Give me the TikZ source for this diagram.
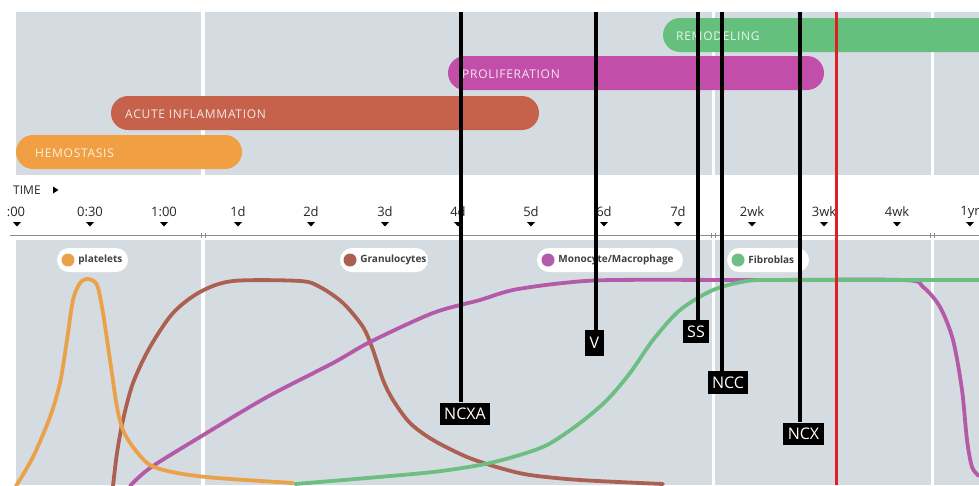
\documentclass[tikz,border=0pt]{standalone}
\usepackage{fontspec}
\setmainfont{Open Sans}
\newfontfamily\phasefont[LetterSpace=6]{Open Sans}
\usetikzlibrary{positioning}

\definecolor{panelgray}{RGB}{213,220,225}
\definecolor{hemocol}{RGB}{240,160,66}
\definecolor{inflamcol}{RGB}{198,98,76}
\definecolor{prolifcol}{RGB}{194,78,170}
\definecolor{remodcol}{RGB}{100,192,124}
\definecolor{platcurve}{RGB}{234,162,74}
\definecolor{granucurve}{RGB}{172,96,82}
\definecolor{monocurve}{RGB}{180,90,168}
\definecolor{fibrocurve}{RGB}{108,190,130}
\definecolor{cutred}{RGB}{222,32,36}

\tikzset{
    phase/.style={rounded corners=17pt, minimum height=34pt, inner sep=0pt},
    phasetext/.style={anchor=west, text=white, text opacity=0.85, inner sep=0pt, font=\phasefont\fontsize{12}{14}\selectfont},
    ticklabel/.style={text=black!85, font=\fontsize{13}{15}\selectfont},
    legendbox/.style={fill=white, rounded corners=12pt, minimum height=24pt, inner sep=0pt},
    legenddot/.style={circle, minimum size=13pt, inner sep=0pt},
    legendtext/.style={right=3.5pt of #1, inner sep=0pt, text=black!75, font=\bfseries\fontsize{10}{12}\selectfont},
    tagbox/.style={fill=black, text=white, inner xsep=4.5pt, inner ysep=0pt, minimum height=22pt, font=\fontsize{16}{18}\selectfont},
    stem/.style={line width=3.5pt},
    cellcurve/.style={line width=3.8pt, line cap=round}
}

\begin{document}
\begin{tikzpicture}[x=1pt, y=-1pt]
    \clip (0, 0) rectangle (979, 485);

    % panels
    \fill[panelgray] (16, 12) rectangle (979, 175);
    \fill[panelgray] (16, 240) rectangle (979, 485);
    \draw[white, line width=4pt] (203, 12) -- (203, 175);
    \draw[white, line width=3pt] (713, 12) -- (713, 175);
    \draw[white, line width=3pt] (932, 12) -- (932, 175);
    \draw[white, line width=4pt] (203, 240) -- (203, 485);
    \draw[white, line width=3pt] (713, 240) -- (713, 485);
    \draw[white, line width=3pt] (932, 240) -- (932, 485);

    % phases
    \node[phase, fill=remodcol, minimum width=346pt] (remod) at (836, 35) {};
    \node[phase, fill=prolifcol, minimum width=376pt] (prolif) at (636, 73) {};
    \node[phase, fill=inflamcol, minimum width=428pt] (inflam) at (325, 113) {};
    \node[phase, fill=hemocol, minimum width=226pt] (hemo) at (129, 152) {};
    \node[phasetext] at (676, 36) {REMODELING};
    \node[phasetext] at (462, 74) {PROLIFERATION};
    \node[phasetext] at (125, 114) {ACUTE INFLAMMATION};
    \node[phasetext] at (35, 153) {HEMOSTASIS};

    % time axis
    \node[anchor=west, inner sep=0pt, text=black!85, font=\fontsize{12}{14}\selectfont] (time) at (13, 190) {TIME};
    \fill (53, 186.5) -- (58.5, 190) -- (53, 193.5) -- cycle;

    \node[ticklabel] (t000) at (16, 212) {:00};
    \node[ticklabel] (t030) at (90, 212) {0:30};
    \node[ticklabel] (t100) at (164, 212) {1:00};
    \node[ticklabel] (t1d) at (238, 212) {1d};
    \node[ticklabel] (t2d) at (311, 212) {2d};
    \node[ticklabel] (t3d) at (385, 212) {3d};
    \node[ticklabel] (t4d) at (458, 212) {4d};
    \node[ticklabel] (t5d) at (531, 212) {5d};
    \node[ticklabel] (t6d) at (604, 212) {6d};
    \node[ticklabel] (t7d) at (678, 212) {7d};
    \node[ticklabel] (t2wk) at (752, 212) {2wk};
    \node[ticklabel] (t3wk) at (824, 212) {3wk};
    \node[ticklabel] (t4wk) at (897, 212) {4wk};
    \node[ticklabel] (t1yr) at (970, 212) {1yr};

    \fill (13, 222) -- (21, 222) -- (17, 226.5) -- cycle;
    \fill (86, 222) -- (94, 222) -- (90, 226.5) -- cycle;
    \fill (160, 222) -- (168, 222) -- (164, 226.5) -- cycle;
    \fill (234, 222) -- (242, 222) -- (238, 226.5) -- cycle;
    \fill (307, 222) -- (315, 222) -- (311, 226.5) -- cycle;
    \fill (381, 222) -- (389, 222) -- (385, 226.5) -- cycle;
    \fill (454, 222) -- (462, 222) -- (458, 226.5) -- cycle;
    \fill (527, 222) -- (535, 222) -- (531, 226.5) -- cycle;
    \fill (600, 222) -- (608, 222) -- (604, 226.5) -- cycle;
    \fill (674, 222) -- (682, 222) -- (678, 226.5) -- cycle;
    \fill (748, 222) -- (756, 222) -- (752, 226.5) -- cycle;
    \fill (820, 222) -- (828, 222) -- (824, 226.5) -- cycle;
    \fill (893, 222) -- (901, 222) -- (897, 226.5) -- cycle;
    \fill (966, 222) -- (974, 222) -- (970, 226.5) -- cycle;

    \draw[black!45, line width=0.8pt] (10, 235) -- (979, 235);
    \draw[black!45] (201, 232.5) -- (201, 237.5) (205, 232.5) -- (205, 237.5);
    \draw[black!45] (711, 232.5) -- (711, 237.5) (715, 232.5) -- (715, 237.5);
    \draw[black!45] (930, 232.5) -- (930, 237.5) (934, 232.5) -- (934, 237.5);

    % legend
    \node[legendbox, minimum width=71pt] (platbox) at (92.5, 260) {};
    \node[legenddot, fill=platcurve] (platdot) at (68, 260) {};
    \node[legendtext=platdot] (plattext) {platelets};
    \node[legendbox, minimum width=88pt] (granubox) at (384, 260) {};
    \node[legenddot, fill=granucurve] (granudot) at (350, 260) {};
    \node[legendtext=granudot] (granutext) {Granulocytes};
    \node[legendbox, minimum width=146pt] (monobox) at (610, 260) {};
    \node[legenddot, fill=monocurve] (monodot) at (548, 260) {};
    \node[legendtext=monodot] (monotext) {Monocyte/Macrophage};
    \node[legendbox, minimum width=82pt] (fibrobox) at (768, 260) {};
    \node[legenddot, fill=fibrocurve] (fibrodot) at (738, 260) {};
    \node[legendtext=fibrodot] (fibrotext) {Fibroblas};

    % cell curves
    \draw[cellcurve, granucurve] plot[smooth] coordinates {(113,486) (117,453) (123,420) (133,383) (150,347) (173,313) (200,292) (233,281) (300,281) (320,287) (343,303) (363,327) (373,350) (383,380) (393,400) (410,423) (433,440) (467,457) (500,468) (530,475) (580,480) (663,484)};
    \draw[cellcurve, monocurve] plot[smooth] coordinates {(130,486) (150,468) (200,437) (267,397) (333,363) (370,342) (433,313) (480,300) (513,290) (563,283) (613,280) (760,280) (903,280) (923,287) (940,307) (953,340) (962,390) (967,440) (972,467) (979,476)};
    \draw[cellcurve, fibrocurve] plot[smooth] coordinates {(295,484) (367,478) (433,472) (480,465) (513,457) (547,445) (580,423) (607,400) (630,373) (653,340) (680,310) (713,290) (747,281) (780,280) (880,280) (979,280)};
    \draw[cellcurve, platcurve] plot[smooth] coordinates {(16,486) (33,457) (50,417) (60,383) (67,340) (73,300) (80,283) (88,279) (97,285) (103,313) (110,360) (117,407) (123,430) (133,447) (150,465) (177,473) (217,478) (293,483)};

    % markers
    \coordinate (ncxatop) at (461, 12);
    \coordinate (vtop) at (596, 12);
    \coordinate (sstop) at (698, 12);
    \coordinate (ncctop) at (722, 12);
    \coordinate (ncxtop) at (800, 12);
    \node[tagbox] (ncxa) at (465, 413.5) {NCXA};
    \node[tagbox, minimum height=26pt] (v) at (594.5, 343) {V};
    \node[tagbox, minimum height=23pt] (ss) at (696, 331.5) {SS};
    \node[tagbox, minimum height=23pt] (ncc) at (728, 382.5) {NCC};
    \node[tagbox] (ncx) at (803.5, 433.5) {NCX};
    \draw[stem] (ncxatop) -- (ncxatop |- ncxa.north);
    \draw[stem] (vtop) -- (vtop |- v.north);
    \draw[stem] (sstop) -- (sstop |- ss.north);
    \draw[stem] (ncctop) -- (ncctop |- ncc.north);
    \draw[stem] (ncxtop) -- (ncxtop |- ncx.north);

    \draw[cutred, line width=3pt] (836, 12) -- (836, 485);
\end{tikzpicture}
\end{document}
